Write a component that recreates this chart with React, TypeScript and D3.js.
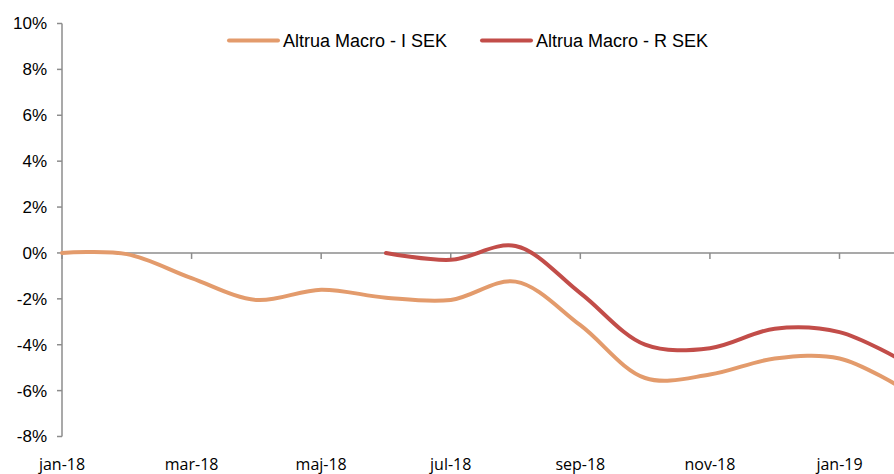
import React from "react";
import * as d3 from "d3";

// month index 0 = jan-18
const months = ["jan-18", "feb-18", "mar-18", "apr-18", "maj-18", "jun-18", "jul-18", "aug-18", "sep-18", "okt-18", "nov-18", "dec-18", "jan-19", "feb-19"];
const tickLabels = ["jan-18", "mar-18", "maj-18", "jul-18", "sep-18", "nov-18", "jan-19"];
const yTicks = [10, 8, 6, 4, 2, 0, -2, -4, -6, -8];

// values in %
const iSek = [0, -0.05, -1.1, -2.05, -1.6, -1.95, -2.05, -1.25, -3.15, -5.45, -5.3, -4.6, -4.6, -5.95];
const rSek: (number | null)[] = [null, null, null, null, null, 0, -0.3, 0.3, -1.75, -4.0, -4.15, -3.3, -3.45, -4.75];

const W = 894;
const H = 474;

const App = () => {
  const x = d3.scaleLinear().domain([0, 12]).range([62, 839.5]);
  const y = d3.scaleLinear().domain([-8, 10]).range([436.5, 23.5]);

  const line = d3
    .line<number | null>()
    .defined((d) => d !== null)
    .x((_, i) => x(i))
    .y((d) => y(d as number))
    .curve(d3.curveCatmullRom.alpha(0.5));

  const axisColor = "#8c8c8c";
  const orange = "#E39B6C";
  const red = "#C24D49";

  return (
    <svg width={W} height={H} style={{ position: "absolute", left: 0, top: 0, background: "#fff" }}>
      {/* y axis */}
      <line x1={x(0)} x2={x(0)} y1={y(10)} y2={y(-8)} stroke={axisColor} strokeWidth={1.5} />
      {yTicks.map((t) => (
        <g key={t}>
          <line x1={x(0) - 5} x2={x(0)} y1={y(t)} y2={y(t)} stroke={axisColor} strokeWidth={1.5} />
          <text
            x={47}
            y={y(t)}
            dy="0.35em"
            textAnchor="end"
            fontFamily="'Liberation Sans', Arial, sans-serif"
            fontSize={17}
            fill="#000"
          >
            {t}%
          </text>
        </g>
      ))}
      {/* zero line with month ticks */}
      <line x1={x(0)} x2={W} y1={y(0)} y2={y(0)} stroke={axisColor} strokeWidth={1.5} />
      {tickLabels.map((m) => {
        const i = months.indexOf(m);
        return (
          <g key={m}>
            <line x1={x(i)} x2={x(i)} y1={y(0)} y2={y(0) + 6} stroke={axisColor} strokeWidth={1.5} />
            <text
              x={x(i)}
              y={470}
              textAnchor="middle"
              fontFamily="'Open Sans', sans-serif"
              fontSize={16}
              fill="#000"
            >
              {m}
            </text>
          </g>
        );
      })}
      {/* series */}
      <path d={line(iSek) ?? ""} fill="none" stroke={orange} strokeWidth={4} strokeLinecap="round" />
      <path d={line(rSek) ?? ""} fill="none" stroke={red} strokeWidth={4} strokeLinecap="round" />
      {/* legend */}
      <g fontFamily="'Liberation Sans', Arial, sans-serif" fontSize={18} fill="#000">
        <line x1={229} x2={278} y1={40.5} y2={40.5} stroke={orange} strokeWidth={4} strokeLinecap="round" />
        <text x={283} y={40.5} dy="0.35em">Altrua Macro - I SEK</text>
        <line x1={482} x2={531} y1={40.5} y2={40.5} stroke={red} strokeWidth={4} strokeLinecap="round" />
        <text x={536} y={40.5} dy="0.35em">Altrua Macro - R SEK</text>
      </g>
    </svg>
  );
};

export default App;
